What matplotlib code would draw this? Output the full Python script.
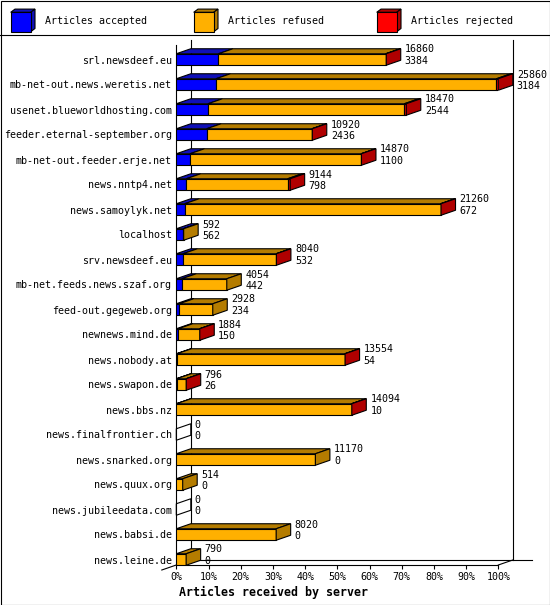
import matplotlib
matplotlib.use("Agg")
import matplotlib.pyplot as plt
from matplotlib.patches import Polygon, Rectangle

# ---------------- data ----------------
servers = [
    "srl.newsdeef.eu", "mb-net-out.news.weretis.net", "usenet.blueworldhosting.com",
    "feeder.eternal-september.org", "mb-net-out.feeder.erje.net", "news.nntp4.net",
    "news.samoylyk.net", "localhost", "srv.newsdeef.eu", "mb-net.feeds.news.szaf.org",
    "feed-out.gegeweb.org", "newnews.mind.de", "news.nobody.at", "news.swapon.de",
    "news.bbs.nz", "news.finalfrontier.ch", "news.snarked.org", "news.quux.org",
    "news.jubileedata.com", "news.babsi.de", "news.leine.de",
]
offered = [16860, 25860, 18470, 10920, 14870, 9144, 21260, 592, 8040, 4054,
           2928, 1884, 13554, 796, 14094, 0, 11170, 514, 0, 8020, 790]
accepted = [3384, 3184, 2544, 2436, 1100, 798, 672, 562, 532, 442,
            234, 150, 54, 26, 10, 0, 0, 0, 0, 0, 0]
refused = [13436, 22526, 15766, 8454, 13740, 8146, 20548, 30, 7488, 3612,
           2694, 1724, 13480, 765, 14064, 0, 11170, 514, 0, 8020, 790]
rejected = [40, 150, 160, 30, 30, 200, 40, 0, 20, 0,
            0, 10, 20, 5, 20, 0, 0, 0, 0, 0, 0]
series_names = ["Articles accepted", "Articles refused", "Articles rejected"]
x_ticks = [0, 10, 20, 30, 40, 50, 60, 70, 80, 90, 100]
x_title = "Articles received by server"

# ---------------- style ----------------
front = ["#0000ff", "#ffb000", "#ff0000"]
dark = ["#1010b8", "#b47c00", "#b00000"]
FONT = "DejaVu Sans Mono"
FS = 7.2
LW = 0.8

W, H = 550, 605
fig = plt.figure(figsize=(W / 100, H / 100), dpi=100)

# frame / legend overlay (pixel layout)
bg = fig.add_axes([0, 0, 1, 1])
bg.set_xlim(0, W)
bg.set_ylim(H, 0)
bg.axis("off")
bg.add_patch(Rectangle((0.5, 0.5), W - 1, H - 1, fill=False, lw=LW, ec="black"))
bg.plot([0, W], [34.5, 34.5], color="black", lw=LW)

cw, ch, cdx, cdy = 20, 19.4, 4.3, 3.2
for k, name in enumerate(series_names):
    lx, ly = 10.7 + 183 * k, 12.3
    bg.add_patch(Polygon([(lx, ly), (lx + cw, ly), (lx + cw + cdx, ly - cdy), (lx + cdx, ly - cdy)],
                         closed=True, fc=dark[k], ec="black", lw=LW))
    bg.add_patch(Polygon([(lx + cw, ly), (lx + cw, ly + ch), (lx + cw + cdx, ly + ch - cdy),
                          (lx + cw + cdx, ly - cdy)], closed=True, fc=dark[k], ec="black", lw=LW))
    bg.add_patch(Rectangle((lx, ly), cw, ch, fc=front[k], ec="black", lw=LW))
    bg.text(lx + 34.3, 20.7, name, fontsize=FS, family=FONT, va="center", ha="left")

# main plot axes
X0, X1 = 176.3, 498.3
Y_TOP, Y_BOT = 40, 565
ROW0, PITCH = 59.5, 25.0
ax = fig.add_axes([X0 / W, 1 - Y_BOT / H, (X1 - X0) / W, (Y_BOT - Y_TOP) / H])
ax.set_facecolor("none")
ax.set_xlim(0, 100)
ylo = (Y_BOT - ROW0) / PITCH
yhi = (Y_TOP - ROW0) / PITCH
ax.set_ylim(ylo, yhi)

pxx = (X1 - X0) / 100.0
DX = 14.5 / pxx
DY = 5.0 / PITCH
BH = 0.46

vmax = max(offered)
back_floor = (560 - ROW0) / PITCH
front_left_top = (45 - ROW0) / PITCH

# walls / floor
ax.plot([DX, DX], [back_floor, yhi], color="black", lw=LW, clip_on=False, zorder=1)
ax.plot([100 + DX, 100 + DX], [back_floor, yhi], color="black", lw=LW, clip_on=False, zorder=1)
ax.plot([DX, (531.7 - X0) / pxx], [back_floor, back_floor], color="black", lw=LW, clip_on=False, zorder=1)
ax.plot([100, 100 + DX], [ylo, back_floor], color="black", lw=LW, clip_on=False, zorder=1)
ax.plot([-DX, DX], [ylo + DY, back_floor], color="black", lw=LW, clip_on=False, zorder=1)

for i in range(len(servers)):
    segs = [accepted[i], refused[i], rejected[i]]
    left = 0.0
    last = None
    top = i - BH / 2
    bot = i + BH / 2
    for k, v in enumerate(segs):
        w = v / vmax * 100
        if v > 0:
            ax.barh(i, w, left=left, height=BH, color=front[k], edgecolor="black", lw=LW, zorder=3)
            ax.add_patch(Polygon([(left, top), (left + w, top), (left + w + DX, top - DY), (left + DX, top - DY)],
                                 closed=True, fc=dark[k], ec="black", lw=LW, zorder=3, clip_on=False))
            last = k
        left += w
    side = [(left, top), (left, bot), (left + DX, bot - DY), (left + DX, top - DY)]
    if last is not None:
        ax.add_patch(Polygon(side, closed=True, fc=dark[last], ec="black", lw=LW, zorder=3, clip_on=False))
    else:
        ax.add_patch(Polygon(side, closed=True, fill=False, ec="black", lw=LW, zorder=3, clip_on=False))
    tx = left + DX + 4 / pxx
    ax.text(tx, i - 0.4, str(offered[i]), fontsize=FS, family=FONT, va="center", ha="left", clip_on=False, zorder=4)
    ax.text(tx, i + 0.06, str(accepted[i]), fontsize=FS, family=FONT, va="center", ha="left", clip_on=False, zorder=4)

for s in ["top", "right"]:
    ax.spines[s].set_visible(False)
ax.spines["left"].set_bounds(ylo, front_left_top)
ax.spines["left"].set_linewidth(LW)
ax.spines["bottom"].set_linewidth(LW)
ax.spines["left"].set_zorder(2)

ax.set_yticks(range(len(servers)))
ax.set_yticklabels(servers, fontsize=FS, family=FONT)
ax.tick_params(axis="y", length=0, pad=3.1)
ax.set_xticks(x_ticks)
ax.set_xticklabels([f"{t}%" for t in x_ticks], fontsize=FS, family=FONT)
ax.tick_params(axis="x", length=3.0, width=LW, pad=2.0, direction="out")

fig.text(273.6 / W, 1 - 592.3 / H, x_title, fontsize=8.4, family=FONT, weight="bold",
         ha="center", va="center")

fig.savefig("out.png", dpi=100)
